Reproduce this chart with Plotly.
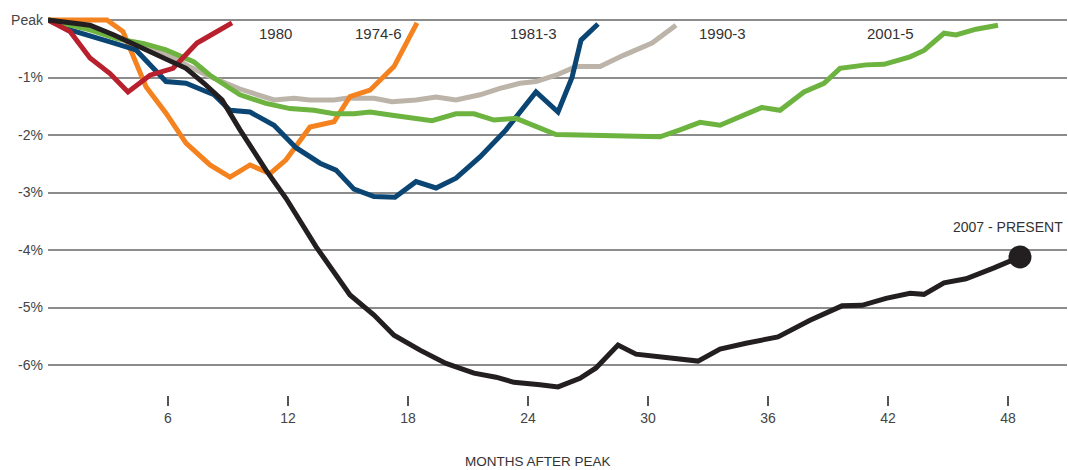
import plotly.graph_objects as go

# ---- data (months after peak, % change from peak) ----
r1980_x = [0, 1.1, 2.1, 3.1, 4.0, 5.1, 6.25, 6.95, 7.45, 8.3, 9.2]
r1980_y = [0, -0.2, -0.66, -0.93, -1.25, -0.96, -0.84, -0.6, -0.4, -0.23, -0.05]

r1974_x = [0, 1, 2, 2.95, 3.75, 4.9, 5.9, 6.9, 8.1, 9.1, 10.1, 11.1, 11.9, 13.1, 14.3, 15.1, 16.1, 17.3, 18.45]
r1974_y = [0, 0, 0, 0, -0.2, -1.16, -1.62, -2.14, -2.52, -2.73, -2.52, -2.67, -2.43, -1.86, -1.77, -1.33, -1.22, -0.81, -0.05]

r1981_x = [0, 1.1, 3.1, 4.4, 5.9, 6.9, 8.3, 9.1, 10.1, 11.3, 12.4, 13.6, 14.4, 15.3, 16.3, 17.35,
           18.4, 19.4, 20.4, 21.6, 22.9, 24.4, 25.5, 26.2, 26.65, 27.5]
r1981_y = [0, -0.17, -0.38, -0.52, -1.07, -1.1, -1.3, -1.57, -1.6, -1.83, -2.22, -2.49, -2.61, -2.94, -3.07, -3.08,
           -2.81, -2.92, -2.75, -2.38, -1.91, -1.25, -1.6, -1.0, -0.35, -0.07]

r1990_x = [0, 1, 2, 3, 4, 5, 6, 7, 8, 9.6, 11.3, 12.3, 13.1, 14.3, 14.9, 16.3, 17.2, 18.4, 19.4, 20.4,
           21.6, 22.6, 23.6, 24.4, 25.4, 26.4, 27.6, 28.8, 30.2, 31.4]
r1990_y = [0, -0.05, -0.15, -0.27, -0.38, -0.48, -0.6, -0.8, -0.97, -1.2, -1.39, -1.36, -1.39, -1.39, -1.36, -1.36,
           -1.42, -1.39, -1.34, -1.39, -1.3, -1.19, -1.1, -1.07, -0.96, -0.81, -0.81, -0.61, -0.4, -0.09]

r2001_x = [0, 2.1, 3.4, 4.8, 5.9, 7.3, 8.1, 9.6, 10.9, 12.1, 13.3, 14.3, 15.3, 16.1, 17.3, 19.2, 20.4, 21.3,
           22.3, 23.4, 25.4, 30.6, 31.6, 32.6, 33.6, 34.8, 35.7, 36.6, 37.8, 38.8, 39.6, 40.9, 41.8, 43.1,
           43.8, 44.8, 45.4, 46.4, 47.5]
r2001_y = [0, -0.17, -0.32, -0.41, -0.52, -0.73, -0.96, -1.3, -1.45, -1.54, -1.57, -1.63, -1.63, -1.6, -1.66,
           -1.75, -1.63, -1.63, -1.74, -1.71, -1.99, -2.03, -1.91, -1.78, -1.83, -1.65, -1.52, -1.57, -1.25,
           -1.1, -0.84, -0.78, -0.77, -0.64, -0.53, -0.23, -0.26, -0.16, -0.09]

r2007_x = [0, 0.9, 2.1, 3.3, 4.6, 5.9, 6.9, 7.8, 8.7, 9.6, 10.9, 11.9, 13.4, 15.1, 16.3, 17.3, 18.6, 19.9,
           21.3, 22.4, 23.3, 24.6, 25.5, 26.6, 27.4, 28.5, 29.4, 32.5, 33.6, 34.9, 36.5, 38.1, 39.7, 40.7,
           41.9, 43.1, 43.8, 44.8, 45.9, 47.3, 48.2, 48.6]
r2007_y = [0, -0.03, -0.09, -0.26, -0.47, -0.67, -0.84, -1.1, -1.39, -1.91, -2.61, -3.1, -3.94, -4.78, -5.13,
           -5.48, -5.74, -5.97, -6.14, -6.21, -6.3, -6.34, -6.38, -6.23, -6.05, -5.65, -5.81, -5.93, -5.72,
           -5.62, -5.51, -5.22, -4.97, -4.96, -4.84, -4.75, -4.77, -4.57, -4.5, -4.31, -4.17, -4.12]

x_ticks = [6, 12, 18, 24, 30, 36, 42, 48]
y_ticks = [0, -1, -2, -3, -4, -5, -6]
y_labels = ["Peak", "-1%", "-2%", "-3%", "-4%", "-5%", "-6%"]

FONT = "Liberation Sans, Arial, sans-serif"

# draw order bottom -> top
series = [
    ("1990-3", r1990_x, r1990_y, "#bcb4a9", 32.45),
    ("1974-6", r1974_x, r1974_y, "#f4821f", 15.25),
    ("1981-3", r1981_x, r1981_y, "#0a4573", 23.0),
    ("2001-5", r2001_x, r2001_y, "#6db33f", 40.85),
    ("1980", r1980_x, r1980_y, "#b8202e", 10.45),
    ("2007 - PRESENT", r2007_x, r2007_y, "#231f20", None),
]

fig = go.Figure()
for name, xs, ys, col, _ in series:
    fig.add_trace(go.Scatter(x=xs, y=ys, mode="lines", name=name,
                             line=dict(color=col, width=5), hoverinfo="skip"))

# end dot for current recession
fig.add_trace(go.Scatter(x=[r2007_x[-1]], y=[r2007_y[-1]], mode="markers",
                         marker=dict(color="#231f20", size=23), hoverinfo="skip"))

annotations = []
for name, xs, ys, col, lx in series:
    if lx is not None:
        annotations.append(dict(x=lx, y=-0.23, xref="x", yref="y", text=name, showarrow=False,
                                xanchor="left", yanchor="middle",
                                font=dict(family=FONT, size=15, color="#333333")))
annotations.append(dict(x=50.85, y=-3.6, xref="x", yref="y", text="2007 - PRESENT", showarrow=False,
                        xanchor="right", yanchor="middle",
                        font=dict(family=FONT, size=14, color="#333333")))
annotations.append(dict(x=24.5, y=-0.174, xref="x", yref="paper", text="MONTHS AFTER PEAK",
                        showarrow=False, xanchor="center", yanchor="middle",
                        font=dict(family=FONT, size=13.5, color="#333333")))

fig.update_layout(
    width=1068, height=470,
    margin=dict(l=48, r=1, t=10, b=75),
    paper_bgcolor="white", plot_bgcolor="white",
    showlegend=False,
    annotations=annotations,
    font=dict(family=FONT, size=14, color="#444444"),
)
fig.update_xaxes(range=[0, 50.95], tickvals=x_ticks, ticktext=[str(t) for t in x_ticks],
                 showgrid=False, zeroline=False, showline=False,
                 ticks="outside", ticklen=10, tickwidth=1.5, tickcolor="#555555",
                 tickfont=dict(family=FONT, size=14, color="#444444"))
fig.update_yaxes(range=[-6.52, 0.174], tickvals=y_ticks, ticktext=y_labels,
                 showgrid=True, gridcolor="#8c8c8c", gridwidth=1.5,
                 zeroline=False, showline=False, ticks="", ticklabelstandoff=4,
                 tickfont=dict(family=FONT, size=14, color="#444444"))

fig.write_html("out.html", config={"displayModeBar": False},
               post_script="document.body.style.margin='0';document.body.style.padding='0';")
